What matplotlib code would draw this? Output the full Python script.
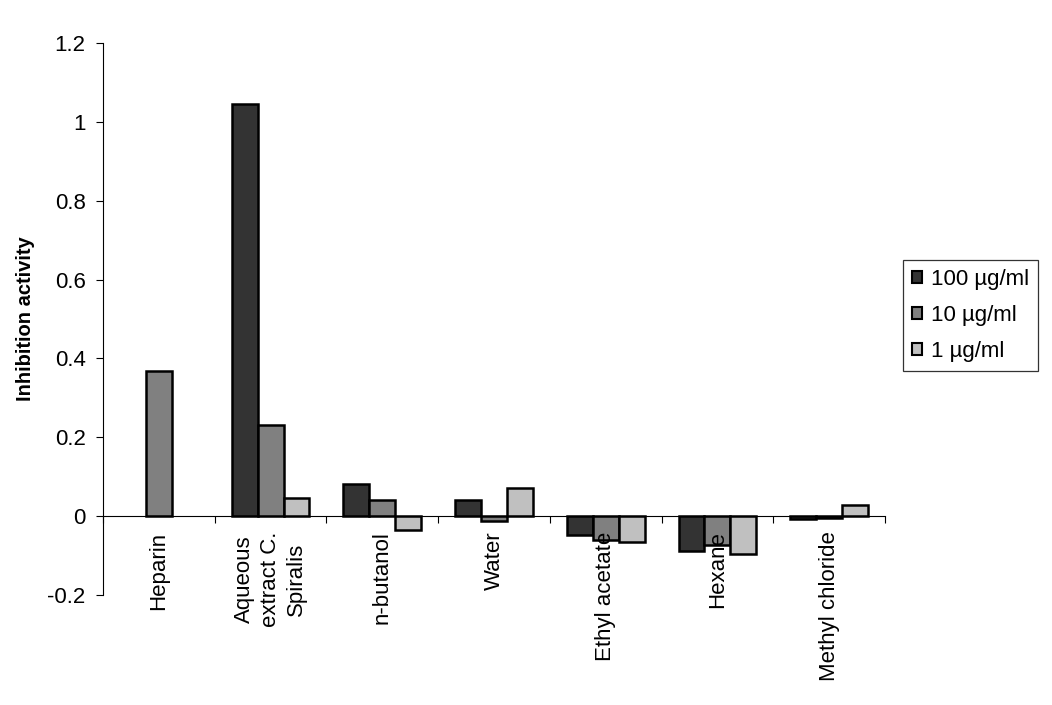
import numpy as np
import matplotlib
matplotlib.use("Agg")
import matplotlib.pyplot as plt
from matplotlib.ticker import FixedLocator

plt.rcParams['font.family'] = ['Liberation Sans', 'DejaVu Sans']
plt.rcParams['axes.unicode_minus'] = False

categories = ["Heparin", "Aqueous\nextract C.\nSpiralis", "n-butanol", "Water",
              "Ethyl acetate", "Hexane", "Methyl chloride"]
series_names = ["100 µg/ml", "10 µg/ml", "1 µg/ml"]
vals_100 = [np.nan, 1.045, 0.082, 0.040, -0.049, -0.089, -0.008]
vals_10 = [0.369, 0.231, 0.040, -0.012, -0.061, -0.072, -0.005]
vals_1 = [np.nan, 0.046, -0.036, 0.071, -0.066, -0.096, 0.029]
colors = ["#333333", "#808080", "#c0c0c0"]
yticks = [-0.2, 0, 0.2, 0.4, 0.6, 0.8, 1, 1.2]
ytick_labels = ["-0.2", "0", "0.2", "0.4", "0.6", "0.8", "1", "1.2"]

FS = 16

fig = plt.figure(figsize=(10.52, 7.05), dpi=100)
ax = fig.add_axes([103/1052, 1 - 595/705, (885-103)/1052, (595-43)/705])
ax.set_axisbelow(False)

x = np.arange(len(categories))
w = 0.232
for i, (vals, name, c) in enumerate(zip([vals_100, vals_10, vals_1], series_names, colors)):
    ax.bar(x + (i - 1) * w, vals, width=w, color=c, edgecolor="black",
           linewidth=1.8, label=name, zorder=1)

ax.set_xlim(-0.5, len(categories) - 0.5)
ax.set_ylim(-0.2, 1.2)
ax.set_yticks(yticks)
ax.set_yticklabels(ytick_labels, fontsize=FS)
ax.tick_params(axis='y', direction='out', length=5, width=0.8, pad=7.5)

ax.spines['top'].set_visible(False)
ax.spines['right'].set_visible(False)
ax.spines['bottom'].set_position(('data', 0))
ax.spines['bottom'].set_linewidth(0.8)
ax.spines['left'].set_linewidth(0.8)

ax.set_xticks(x)
ax.set_xticklabels(categories, rotation=90, fontsize=FS, va='top', ha='center',
                   multialignment='center', linespacing=1.3)
ax.tick_params(axis='x', which='major', length=0, pad=11)
ax.xaxis.set_minor_locator(FixedLocator(np.arange(-0.5, len(categories) + 0.5, 1)))
ax.tick_params(axis='x', which='minor', direction='out', length=5, width=0.8)

ax.set_ylabel("Inhibition activity", fontsize=14.5, fontweight='bold')
ax.yaxis.set_label_coords(-(103 - 35) / 782, 0.5)

leg = fig.legend(loc='center left', bbox_to_anchor=(903/1052, 1 - 315.5/705),
                 bbox_transform=fig.transFigure, borderaxespad=0, fontsize=FS,
                 frameon=True, fancybox=False, handlelength=0.45, handleheight=0.45,
                 handletextpad=0.4, labelspacing=0.68, borderpad=0.4)
leg.get_frame().set_edgecolor('black')
leg.get_frame().set_linewidth(0.9)
for h in leg.legend_handles:
    h.set_linewidth(1.5)

fig.savefig("out.png", dpi=100)
